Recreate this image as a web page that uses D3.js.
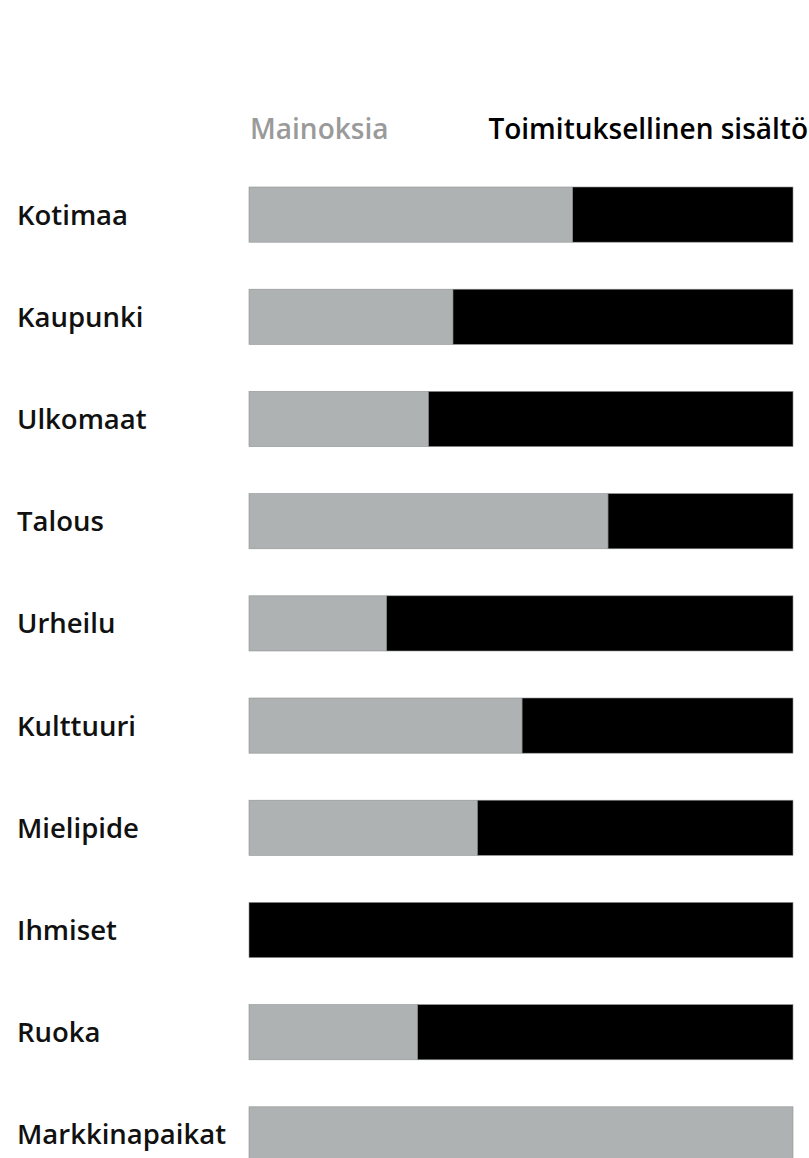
<!DOCTYPE html>
<html>
<head>
<meta charset="utf-8">
<script src="https://cdn.jsdelivr.net/npm/d3@7"></script>
<style>
  body { margin: 0; background: #fff; }
  text { font-family: "Open Sans", sans-serif; font-weight: 600; }
</style>
</head>
<body>
<div id="chart-area"></div>
<script>
// categories, top to bottom
var categories = ["Kotimaa", "Kaupunki", "Ulkomaat", "Talous", "Urheilu",
                  "Kulttuuri", "Mielipide", "Ihmiset", "Ruoka", "Markkinapaikat"];
// share of ads (%) per section
var mainoksia = [59.5, 37.5, 33, 66, 25.3, 50.2, 42, 0, 31, 100];
// share of editorial content (%)
var toimituksellinen = [40.5, 62.5, 67, 34, 74.7, 49.8, 58, 100, 69, 0];
var seriesNames = ["Mainoksia", "Toimituksellinen sisältö"];

var width = 809, height = 1158;

var svg = d3.select("#chart-area")
    .append("svg")
        .attr("width", width)
        .attr("height", height);

var data = categories.map(function(c, i) {
    return { name: c, ads: mainoksia[i], edit: toimituksellinen[i] };
});

// x scale in percent
var x = d3.scaleLinear()
    .domain([0, 100])
    .range([249, 793]);

// band scale for rows: step ~102px, bars ~55px high
var step = 102.2, pad = 0.46;
var y = d3.scaleBand()
    .domain(categories)
    .range([187, 187 + step * (categories.length - pad)])
    .paddingInner(pad)
    .paddingOuter(0);

var color = d3.scaleOrdinal()
    .domain(["ads", "edit"])
    .range(["#afb2b2", "#000000"]);

var stack = d3.stack().keys(["ads", "edit"]);
var layers = stack(data);

svg.selectAll("g.layer")
        .data(layers)
    .enter()
        .append("g")
        .attr("class", "layer")
        .attr("fill", function(d) { return color(d.key); })
    .selectAll("rect")
        .data(function(d) { return d; })
    .enter()
        .append("rect")
        .attr("x", function(d) { return x(d[0]); })
        .attr("y", function(d) { return y(d.data.name); })
        .attr("width", function(d) { return x(d[1]) - x(d[0]); })
        .attr("height", y.bandwidth())
        .attr("stroke", "#8f9292")
        .attr("stroke-width", function(d) { return d[1] - d[0] > 0 ? 0.6 : 0; });

// row labels
svg.selectAll("text.label")
        .data(categories)
    .enter()
        .append("text")
        .attr("class", "label")
        .attr("x", 17)
        .attr("y", function(d) { return y(d) + y.bandwidth() / 2 + 10; })
        .attr("font-size", 27.5)
        .attr("fill", "#111")
        .text(function(d) { return d; });

// legend headers
svg.append("text")
    .attr("x", 250)
    .attr("y", 139)
    .attr("font-size", 28)
    .attr("fill", "#9a9a9a")
    .text(seriesNames[0]);

svg.append("text")
    .attr("x", 808)
    .attr("y", 139)
    .attr("text-anchor", "end")
    .attr("font-size", 28)
    .attr("fill", "#000")
    .text(seriesNames[1]);
</script>
</body>
</html>
